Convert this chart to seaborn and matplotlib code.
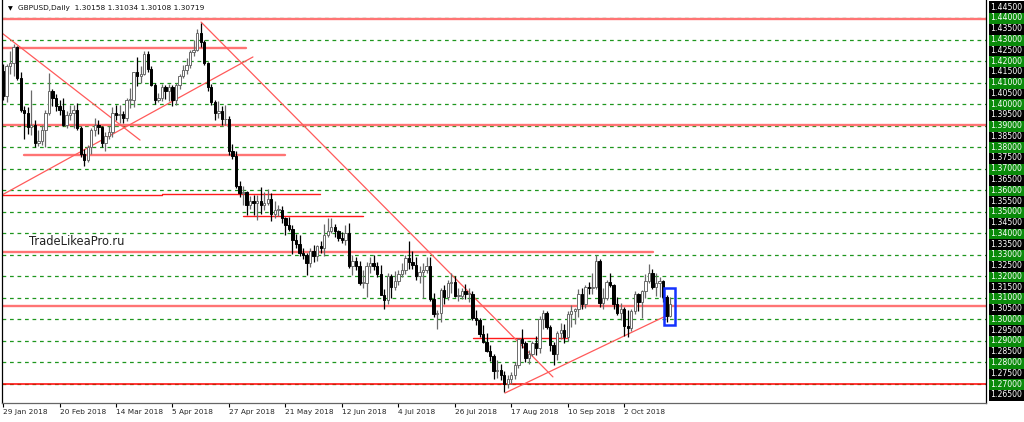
import matplotlib

matplotlib.use('Agg')
import matplotlib.pyplot as plt
import numpy as np
import pandas as pd
import seaborn as sns

# daily GBPUSD bars, 29 Jan 2018 .. 19 Oct 2018
opens = [1.4155, 1.4040, 1.4175, 1.4190, 1.4265, 1.4120, 1.3975, 1.3960, 1.3895, 1.3905,
         1.3820, 1.3830, 1.3880, 1.3960, 1.4060, 1.4030, 1.3990, 1.3975, 1.3905, 1.3950,
         1.3960, 1.3975, 1.3890, 1.3770, 1.3740, 1.3800, 1.3880, 1.3905, 1.3895, 1.3820,
         1.3850, 1.3870, 1.3960, 1.3950, 1.3955, 1.3935, 1.4020, 1.4020, 1.4150, 1.4130,
         1.4140, 1.4235, 1.4165, 1.4090, 1.4020, 1.4030, 1.4080, 1.4060, 1.4080, 1.4020,
         1.4090, 1.4130, 1.4160, 1.4180, 1.4240, 1.4250, 1.4330, 1.4290, 1.4190, 1.4080,
         1.4010, 1.3960, 1.3970, 1.3930, 1.3930, 1.3780, 1.3760, 1.3620, 1.3585, 1.3590,
         1.3530, 1.3550, 1.3540, 1.3550, 1.3530, 1.3540, 1.3560, 1.3490, 1.3510, 1.3510,
         1.3470, 1.3440, 1.3420, 1.3370, 1.3350, 1.3310, 1.3300, 1.3260, 1.3320, 1.3295,
         1.3340, 1.3330, 1.3390, 1.3410, 1.3430, 1.3410, 1.3380, 1.3370, 1.3400, 1.3250,
         1.3270, 1.3250, 1.3170, 1.3170, 1.3250, 1.3260, 1.3250, 1.3210, 1.3115, 1.3090,
         1.3200, 1.3150, 1.3180, 1.3210, 1.3230, 1.3285, 1.3265, 1.3255, 1.3200, 1.3220,
         1.3230, 1.3250, 1.3095, 1.3025, 1.3030, 1.3135, 1.3105, 1.3170, 1.3175, 1.3110,
         1.3110, 1.3130, 1.3120, 1.3120, 1.3005, 1.2995, 1.2930, 1.2895, 1.2855, 1.2830,
         1.2760, 1.2765, 1.2740, 1.2700, 1.2725, 1.2740, 1.2790, 1.2910, 1.2890, 1.2820,
         1.2840, 1.2890, 1.2865, 1.3000, 1.3030, 1.2965, 1.2880, 1.2840, 1.2935, 1.2950,
         1.2920, 1.3025, 1.3040, 1.3050, 1.3120, 1.3070, 1.3150, 1.3145, 1.3150, 1.3270,
         1.3075, 1.3100, 1.3175, 1.3160, 1.3070, 1.3030, 1.3050, 1.2970, 1.2960, 1.3040,
         1.3120, 1.3080, 1.3130, 1.3180, 1.3215, 1.3150, 1.3170, 1.3180, 1.3105, 1.30158]
highs = [1.4185, 1.4188, 1.4245, 1.4280, 1.4270, 1.4150, 1.3990, 1.3985, 1.4065, 1.3925,
         1.3880, 1.3905, 1.3975, 1.4145, 1.4070, 1.4045, 1.4020, 1.4030, 1.3970, 1.3995,
         1.3995, 1.4005, 1.3900, 1.3790, 1.3810, 1.3890, 1.3935, 1.3925, 1.3900, 1.3870,
         1.3900, 1.3985, 1.3995, 1.3995, 1.3970, 1.4030, 1.4075, 1.4150, 1.4220, 1.4175,
         1.4245, 1.4245, 1.4175, 1.4100, 1.4050, 1.4095, 1.4090, 1.4095, 1.4090, 1.4100,
         1.4140, 1.4180, 1.4215, 1.4250, 1.4300, 1.4350, 1.4377, 1.4300, 1.4195, 1.4095,
         1.4020, 1.4015, 1.3990, 1.3995, 1.3945, 1.3815, 1.3780, 1.3645, 1.3620, 1.3595,
         1.3575, 1.3580, 1.3580, 1.3615, 1.3590, 1.3605, 1.3585, 1.3550, 1.3530, 1.3525,
         1.3475, 1.3475, 1.3440, 1.3395, 1.3390, 1.3330, 1.3310, 1.3330, 1.3345, 1.3345,
         1.3365, 1.3445, 1.3470, 1.3473, 1.3445, 1.3415, 1.3405, 1.3440, 1.3450, 1.3300,
         1.3290, 1.3270, 1.3230, 1.3265, 1.3290, 1.3300, 1.3265, 1.3255, 1.3140, 1.3215,
         1.3210, 1.3225, 1.3230, 1.3260, 1.3300, 1.3362, 1.3320, 1.3290, 1.3250, 1.3260,
         1.3290, 1.3290, 1.3125, 1.3045, 1.3145, 1.3160, 1.3185, 1.3215, 1.3200, 1.3145,
         1.3145, 1.3165, 1.3145, 1.3130, 1.3045, 1.3005, 1.2975, 1.2935, 1.2880, 1.2840,
         1.2810, 1.2795, 1.2760, 1.2740, 1.2755, 1.2800, 1.2915, 1.2955, 1.2900, 1.2860,
         1.2900, 1.2925, 1.3015, 1.3043, 1.3040, 1.2975, 1.2895, 1.2945, 1.2985, 1.2980,
         1.3040, 1.3065, 1.3055, 1.3140, 1.3145, 1.3160, 1.3175, 1.3215, 1.3298, 1.3280,
         1.3145, 1.3185, 1.3215, 1.3165, 1.3105, 1.3075, 1.3060, 1.3045, 1.3050, 1.3130,
         1.3125, 1.3135, 1.3210, 1.3258, 1.3235, 1.3215, 1.3195, 1.3185, 1.3115, 1.31034]
lows = [1.4020, 1.4010, 1.4140, 1.4130, 1.4110, 1.3965, 1.3840, 1.3860, 1.3855, 1.3800,
        1.3805, 1.3810, 1.3800, 1.3950, 1.3990, 1.3970, 1.3950, 1.3900, 1.3890, 1.3925,
        1.3890, 1.3880, 1.3755, 1.3712, 1.3730, 1.3770, 1.3850, 1.3860, 1.3800, 1.3780,
        1.3840, 1.3845, 1.3925, 1.3910, 1.3910, 1.3920, 1.3980, 1.3985, 1.4085, 1.4100,
        1.4135, 1.4150, 1.4085, 1.4000, 1.4010, 1.4015, 1.4025, 1.4015, 1.3990, 1.3995,
        1.4070, 1.4120, 1.4140, 1.4170, 1.4225, 1.4245, 1.4265, 1.4180, 1.4060, 1.3995,
        1.3925, 1.3935, 1.3905, 1.3905, 1.3765, 1.3745, 1.3610, 1.3570, 1.3530, 1.3485,
        1.3515, 1.3485, 1.3460, 1.3490, 1.3510, 1.3530, 1.3455, 1.3470, 1.3480, 1.3450,
        1.3390, 1.3410, 1.3305, 1.3330, 1.3295, 1.3280, 1.3205, 1.3245, 1.3265, 1.3270,
        1.3310, 1.3295, 1.3385, 1.3400, 1.3385, 1.3365, 1.3355, 1.3345, 1.3240, 1.3205,
        1.3230, 1.3160, 1.3145, 1.3105, 1.3215, 1.3230, 1.3195, 1.3115, 1.3050, 1.3070,
        1.3100, 1.3135, 1.3160, 1.3195, 1.3210, 1.3235, 1.3235, 1.3185, 1.3170, 1.3100,
        1.3215, 1.3085, 1.3010, 1.2957, 1.2990, 1.3070, 1.3090, 1.3125, 1.3105, 1.3085,
        1.3095, 1.3095, 1.3080, 1.2995, 1.2975, 1.2920, 1.2890, 1.2850, 1.2805, 1.2725,
        1.2730, 1.2720, 1.2662, 1.2680, 1.2700, 1.2725, 1.2775, 1.2865, 1.2800, 1.2795,
        1.2830, 1.2835, 1.2845, 1.2955, 1.2955, 1.2855, 1.2786, 1.2810, 1.2910, 1.2890,
        1.2900, 1.2965, 1.2980, 1.3010, 1.3050, 1.3055, 1.3120, 1.3120, 1.3140, 1.3060,
        1.3050, 1.3090, 1.3150, 1.3050, 1.3020, 1.2995, 1.2922, 1.2920, 1.2945, 1.3025,
        1.3040, 1.3005, 1.3100, 1.3170, 1.3140, 1.3110, 1.3105, 1.3080, 1.2990, 1.30108]
closes = [1.4040, 1.4175, 1.4190, 1.4265, 1.4120, 1.3975, 1.3960, 1.3895, 1.3905, 1.3820,
          1.3830, 1.3880, 1.3960, 1.4060, 1.4030, 1.3990, 1.3975, 1.3905, 1.3950, 1.3960,
          1.3975, 1.3890, 1.3770, 1.3740, 1.3800, 1.3880, 1.3905, 1.3895, 1.3820, 1.3850,
          1.3870, 1.3960, 1.3950, 1.3955, 1.3935, 1.4020, 1.4020, 1.4150, 1.4130, 1.4140,
          1.4235, 1.4165, 1.4090, 1.4020, 1.4030, 1.4080, 1.4060, 1.4080, 1.4020, 1.4090,
          1.4130, 1.4160, 1.4180, 1.4240, 1.4250, 1.4330, 1.4290, 1.4190, 1.4080, 1.4010,
          1.3960, 1.3970, 1.3930, 1.3930, 1.3780, 1.3760, 1.3620, 1.3585, 1.3590, 1.3530,
          1.3550, 1.3540, 1.3550, 1.3530, 1.3540, 1.3560, 1.3490, 1.3510, 1.3510, 1.3470,
          1.3440, 1.3420, 1.3370, 1.3350, 1.3310, 1.3300, 1.3260, 1.3320, 1.3295, 1.3340,
          1.3330, 1.3390, 1.3410, 1.3430, 1.3410, 1.3380, 1.3370, 1.3400, 1.3250, 1.3270,
          1.3250, 1.3170, 1.3170, 1.3250, 1.3260, 1.3250, 1.3210, 1.3115, 1.3090, 1.3200,
          1.3150, 1.3180, 1.3210, 1.3230, 1.3285, 1.3265, 1.3255, 1.3200, 1.3220, 1.3230,
          1.3250, 1.3095, 1.3025, 1.3030, 1.3135, 1.3105, 1.3170, 1.3175, 1.3110, 1.3110,
          1.3130, 1.3120, 1.3120, 1.3005, 1.2995, 1.2930, 1.2895, 1.2855, 1.2830, 1.2760,
          1.2765, 1.2740, 1.2700, 1.2725, 1.2740, 1.2790, 1.2910, 1.2890, 1.2820, 1.2840,
          1.2890, 1.2865, 1.3000, 1.3030, 1.2965, 1.2880, 1.2840, 1.2935, 1.2950, 1.2920,
          1.3025, 1.3040, 1.3050, 1.3120, 1.3070, 1.3150, 1.3145, 1.3150, 1.3270, 1.3075,
          1.3100, 1.3175, 1.3160, 1.3070, 1.3030, 1.3050, 1.2970, 1.2960, 1.3040, 1.3120,
          1.3080, 1.3130, 1.3180, 1.3215, 1.3150, 1.3170, 1.3180, 1.3105, 1.3016, 1.30719]

# drawn objects (bar index, price)
full_levels_light = [1.4395, 1.3905, 1.3064]
full_level_strong = 1.2700
segments_light = [(-0.3, 68.8, 1.4262), (5.9, 79.9, 1.3764), (-0.3, 184.1, 1.3312)]
segments_strong = [(-0.3, 45.0, 1.3580), (45.0, 89.8, 1.3584), (68.0, 102.0, 1.3482),
                   (133.1, 159.8, 1.2914)]
trend_lines = [((-0.3, 1.4330), (38.8, 1.3833)), ((-0.3, 1.3578), (70.8, 1.4219)),
               ((56.1, 1.4381), (155.8, 1.2733)), ((142.2, 1.2658), (187.8, 1.3016))]
box = (187.3, 190.4, 1.2975, 1.3147)

green_levels = np.round(np.arange(1.27, 1.4401, 0.01), 2)
axis_labels = np.round(np.arange(1.265, 1.4451, 0.005), 3)

dates = pd.bdate_range('2018-01-29', '2018-10-19')
df = pd.DataFrame({'date': dates, 'open': opens, 'high': highs, 'low': lows, 'close': closes})
df['idx'] = np.arange(len(df))

sns.set_theme(style='white')
plt.rcParams['font.family'] = ['DejaVu Sans']

fig = plt.figure(figsize=(10.24, 4.22), dpi=100)
ax = fig.add_axes([2 / 1024, 19 / 422, 984 / 1024, 403 / 422])
ax.set_xlim(-0.3, 278.5)
ax.set_ylim(1.26118, 1.44836)

for lv in green_levels:
    ax.axhline(lv, color='#1e961e', lw=0.9, dashes=(3, 3), zorder=1)

for lv in full_levels_light:
    ax.axhline(lv, color='#ff7474', lw=1.7, zorder=2)
ax.axhline(full_level_strong, color='#ff0000', lw=1.1, zorder=2)
for x0, x1, y in segments_light:
    ax.plot([x0, x1], [y, y], color='#ff7474', lw=1.7, zorder=2)
for x0, x1, y in segments_strong:
    ax.plot([x0, x1], [y, y], color='#ff1a1a', lw=1.0, zorder=2)
for (x0, y0), (x1, y1) in trend_lines:
    ax.plot([x0, x1], [y0, y1], color='#ff5a5a', lw=0.9, zorder=2)

# candles
up = df['close'] >= df['open']
for is_up, col, face in [(True, '#6a6a6a', 'white'), (False, 'black', 'black')]:
    d = df[up == is_up]
    ax.vlines(d['idx'], d['low'], d['high'], color=col, lw=0.9, zorder=3)
    body = (d['close'] - d['open']).abs().clip(lower=0.0003)
    ax.bar(d['idx'], body, bottom=d[['open', 'close']].min(axis=1), width=0.68,
           facecolor=face, edgecolor=col, linewidth=0.7, zorder=4)

ax.add_patch(plt.Rectangle((box[0], box[2]), box[1] - box[0], box[3] - box[2],
                           fill=False, edgecolor='#1432ff', lw=1.8, zorder=5))

# right price scale
for v in axis_labels:
    green = abs(v * 100 - round(v * 100)) < 1e-6
    ax.text(1.0045, v, f"{v:.5f}", transform=ax.get_yaxis_transform(), ha='left', va='center',
            fontsize=5.6, color='white', clip_on=False,
            bbox=dict(boxstyle='square,pad=0.2', facecolor='#0a8a0a' if green else 'black',
                      edgecolor='none'))

# time scale
tick_pos = list(range(0, 190, 16))
ax.set_xticks(tick_pos)
ax.set_xticklabels([dates[i].strftime('%-d %b %Y') for i in tick_pos], fontsize=5.3, ha='left')
ax.tick_params(axis='x', bottom=True, length=3, width=0.8, color='black', pad=1.5)
ax.set_yticks([])

for side in ['left', 'right']:
    ax.spines[side].set_color('black')
    ax.spines[side].set_linewidth(0.9)
ax.spines['bottom'].set_color('#666666')
ax.spines['bottom'].set_linewidth(0.9)
ax.spines['top'].set_visible(False)

ax.text(0.006, 0.985, "\u25bc", transform=ax.transAxes, fontsize=4.5, color='black',
        ha='left', va='top')
ax.text(0.016, 0.988, "GBPUSD,Daily  1.30158 1.31034 1.30108 1.30719", transform=ax.transAxes,
        fontsize=5.3, color='#111111', ha='left', va='top')
ax.text(0.0275, 1.3364, "TradeLikeaPro.ru", transform=ax.get_yaxis_transform(), fontsize=8.3,
        color='#222222', ha='left', va='center', zorder=6)

fig.savefig('out.png', dpi=100, facecolor='white')
